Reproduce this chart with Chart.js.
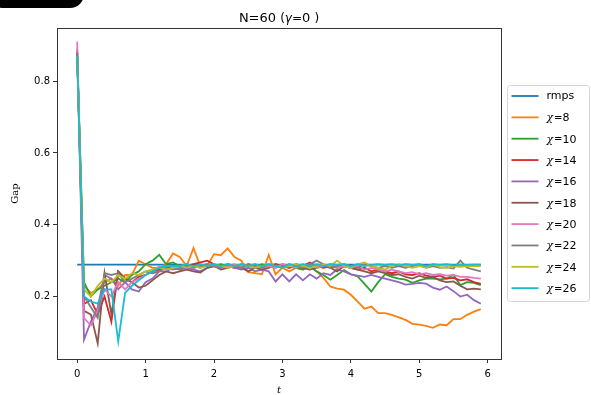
<!DOCTYPE html>
<html>
<head>
<meta charset="utf-8">
<script src="https://cdn.jsdelivr.net/npm/chart.js@4"></script>
<style>
html,body{margin:0;padding:0;background:#fff;overflow:hidden;}
#wrap{position:relative;width:591px;height:395px;}
#blob{position:absolute;left:-12px;top:-12px;width:96px;height:20px;background:#000;border-radius:0 0 14px 14px;}
canvas{position:absolute;left:0;top:0;}
</style>
</head>
<body>
<div id="wrap"><canvas id="c" width="591" height="395"></canvas><div id="blob"></div></div>
<script>
const tValues = [0.0,0.1,0.2,0.3,0.4,0.5,0.6,0.7,0.8,0.9,1.0,1.1,1.2,1.3,1.4,1.5,1.6,1.7,1.8,1.9,2.0,2.1,2.2,2.3,2.4,2.5,2.6,2.7,2.8,2.9,3.0,3.1,3.2,3.3,3.4,3.5,3.6,3.7,3.8,3.9,4.0,4.1,4.2,4.3,4.4,4.5,4.6,4.7,4.8,4.9,5.0,5.1,5.2,5.3,5.4,5.5,5.6,5.7,5.8,5.9];
const xTicks = [0,1,2,3,4,5,6];
const yTicks = [0.2,0.4,0.6,0.8];
const seriesLabels = ['rmps','χ=8','χ=10','χ=14','χ=16','χ=18','χ=20','χ=22','χ=24','χ=26'];

const rmps = [0.289,0.289,0.289,0.289,0.289,0.289,0.289,0.289,0.289,0.289,0.289,0.289,0.289,0.289,0.289,0.289,0.289,0.289,0.289,0.289,0.289,0.289,0.289,0.289,0.289,0.289,0.289,0.289,0.289,0.289,0.289,0.289,0.289,0.289,0.289,0.289,0.289,0.289,0.289,0.289,0.289,0.289,0.289,0.289,0.289,0.289,0.289,0.289,0.289,0.289,0.289,0.289,0.289,0.289,0.289,0.289,0.289,0.289,0.289,0.289];
const chi8 = [0.88,0.23,0.21,0.22,0.24,0.25,0.23,0.26,0.26,0.30,0.29,0.28,0.28,0.29,0.32,0.31,0.285,0.335,0.285,0.285,0.318,0.315,0.334,0.31,0.30,0.268,0.265,0.262,0.316,0.262,0.28,0.27,0.28,0.275,0.285,0.27,0.252,0.228,0.222,0.219,0.205,0.186,0.166,0.172,0.154,0.154,0.149,0.142,0.135,0.124,0.122,0.118,0.113,0.122,0.12,0.137,0.137,0.149,0.158,0.165];
const chi10 = [0.87,0.24,0.20,0.22,0.23,0.24,0.25,0.24,0.26,0.27,0.29,0.30,0.316,0.29,0.295,0.285,0.29,0.285,0.28,0.29,0.285,0.29,0.285,0.28,0.29,0.285,0.28,0.29,0.285,0.28,0.29,0.285,0.28,0.275,0.285,0.27,0.26,0.247,0.26,0.274,0.262,0.256,0.235,0.214,0.24,0.262,0.255,0.25,0.247,0.238,0.245,0.25,0.25,0.248,0.25,0.26,0.232,0.24,0.238,0.232];
const chi14 = [0.87,0.18,0.19,0.15,0.20,0.13,0.27,0.25,0.24,0.255,0.26,0.27,0.275,0.28,0.28,0.275,0.285,0.29,0.295,0.30,0.29,0.28,0.29,0.285,0.28,0.29,0.285,0.28,0.285,0.29,0.285,0.28,0.29,0.285,0.295,0.285,0.28,0.285,0.28,0.285,0.28,0.275,0.28,0.27,0.275,0.27,0.265,0.27,0.262,0.26,0.265,0.258,0.255,0.258,0.25,0.252,0.245,0.248,0.24,0.235];
const chi16 = [0.89,0.08,0.13,0.17,0.26,0.25,0.22,0.24,0.22,0.214,0.24,0.25,0.27,0.27,0.28,0.275,0.28,0.275,0.27,0.28,0.285,0.28,0.285,0.28,0.275,0.28,0.27,0.275,0.27,0.242,0.262,0.242,0.262,0.245,0.262,0.25,0.265,0.26,0.275,0.27,0.262,0.258,0.255,0.26,0.255,0.25,0.245,0.24,0.233,0.235,0.238,0.236,0.225,0.219,0.228,0.215,0.20,0.205,0.19,0.18];
const chi18 = [0.88,0.16,0.15,0.07,0.265,0.15,0.27,0.25,0.24,0.225,0.23,0.245,0.26,0.27,0.265,0.27,0.275,0.27,0.267,0.28,0.285,0.275,0.28,0.285,0.28,0.27,0.28,0.275,0.28,0.29,0.285,0.28,0.285,0.28,0.275,0.28,0.285,0.28,0.27,0.285,0.28,0.275,0.27,0.265,0.27,0.265,0.26,0.262,0.255,0.25,0.258,0.252,0.255,0.245,0.24,0.242,0.23,0.22,0.222,0.22];
const chi20 = [0.91,0.14,0.12,0.16,0.22,0.20,0.24,0.22,0.24,0.25,0.26,0.27,0.285,0.275,0.28,0.285,0.29,0.28,0.285,0.29,0.285,0.28,0.285,0.29,0.28,0.285,0.29,0.28,0.285,0.28,0.29,0.285,0.28,0.285,0.29,0.28,0.285,0.29,0.28,0.285,0.28,0.285,0.275,0.28,0.275,0.27,0.275,0.27,0.265,0.268,0.262,0.265,0.26,0.262,0.258,0.26,0.255,0.255,0.252,0.25];
const chi22 = [0.88,0.20,0.17,0.14,0.265,0.26,0.265,0.24,0.25,0.26,0.27,0.265,0.27,0.28,0.275,0.28,0.285,0.28,0.285,0.29,0.285,0.28,0.29,0.285,0.28,0.29,0.285,0.28,0.29,0.285,0.28,0.29,0.285,0.28,0.29,0.30,0.29,0.28,0.285,0.29,0.285,0.28,0.29,0.285,0.28,0.285,0.28,0.285,0.28,0.285,0.29,0.28,0.285,0.28,0.282,0.278,0.30,0.28,0.275,0.27];
const chi24 = [0.87,0.22,0.20,0.23,0.25,0.24,0.26,0.25,0.265,0.26,0.27,0.275,0.28,0.275,0.28,0.285,0.28,0.285,0.28,0.285,0.29,0.285,0.28,0.285,0.29,0.285,0.28,0.285,0.29,0.285,0.28,0.285,0.29,0.285,0.28,0.285,0.29,0.285,0.30,0.285,0.28,0.29,0.295,0.285,0.28,0.275,0.285,0.29,0.285,0.28,0.285,0.28,0.29,0.282,0.28,0.285,0.283,0.285,0.285,0.285];
const chi26 = [0.87,0.20,0.186,0.18,0.22,0.22,0.075,0.21,0.23,0.245,0.26,0.27,0.28,0.285,0.285,0.285,0.29,0.285,0.29,0.285,0.29,0.285,0.29,0.285,0.29,0.285,0.29,0.285,0.29,0.285,0.28,0.29,0.285,0.29,0.285,0.29,0.285,0.29,0.288,0.29,0.285,0.29,0.285,0.288,0.29,0.288,0.29,0.287,0.29,0.288,0.29,0.285,0.29,0.288,0.29,0.287,0.289,0.288,0.289,0.289];

const seriesValues = [rmps,chi8,chi10,chi14,chi16,chi18,chi20,chi22,chi24,chi26];
const colors = ['#1f77b4','#ff7f0e','#2ca02c','#d62728','#9467bd','#8c564b','#e377c2','#7f7f7f','#bcbd22','#17becf'];

const datasets = seriesValues.map((vals,i)=>({
  label: seriesLabels[i],
  data: vals.map((v,j)=>({x:tValues[j], y:v})),
  borderColor: colors[i],
  backgroundColor: colors[i],
  borderWidth: 1.8,
  pointRadius: 0,
  tension: 0,
  fill: false,
  order: seriesValues.length - i
}));

const AX = '#333';
const frameAndText = {
  id:'frameAndText',
  afterDraw(chart){
    const ctx = chart.ctx, a = chart.chartArea;
    ctx.save();
    ctx.strokeStyle = AX; ctx.lineWidth = 1;
    ctx.strokeRect(Math.round(a.left)+0.5, Math.round(a.top)+0.5, Math.round(a.right-a.left), Math.round(a.bottom-a.top));
    // title
    ctx.fillStyle = '#000';
    ctx.textBaseline = 'middle';
    const parts = [['N=60 ','13px "DejaVu Sans"'],['(','12px "DejaVu Sans"'],['γ','italic 12px "DejaVu Sans"'],['=','12px "DejaVu Sans"'],['0 ','13px "DejaVu Sans"'],[')','12px "DejaVu Sans"']];
    let total = 0;
    parts.forEach(p=>{ctx.font=p[1]; total += ctx.measureText(p[0]).width;});
    let x = (a.left+a.right)/2 - total/2;
    parts.forEach(p=>{ctx.font=p[1]; ctx.fillText(p[0], x, 19); x += ctx.measureText(p[0]).width;});
    // axis labels
    ctx.font = 'italic 10px "DejaVu Serif"';
    ctx.textAlign = 'center';
    ctx.fillText('t', (a.left+a.right)/2, 390);
    ctx.save();
    ctx.translate(15, (a.top+a.bottom)/2);
    ctx.rotate(-Math.PI/2);
    ctx.font = '10px "DejaVu Serif"';
    ctx.fillText('Gap', 0, 0);
    ctx.restore();
    // legend
    const bx = 507.5, by = 85.5, bw = 82, bh = 216, r = 3;
    ctx.beginPath();
    ctx.moveTo(bx+r,by); ctx.lineTo(bx+bw-r,by); ctx.quadraticCurveTo(bx+bw,by,bx+bw,by+r);
    ctx.lineTo(bx+bw,by+bh-r); ctx.quadraticCurveTo(bx+bw,by+bh,bx+bw-r,by+bh);
    ctx.lineTo(bx+r,by+bh); ctx.quadraticCurveTo(bx,by+bh,bx,by+bh-r);
    ctx.lineTo(bx,by+r); ctx.quadraticCurveTo(bx,by,bx+r,by);
    ctx.fillStyle = 'rgba(255,255,255,0.8)'; ctx.fill();
    ctx.strokeStyle = '#d6d6d6'; ctx.lineWidth = 1; ctx.stroke();
    ctx.textAlign = 'left';
    chart.data.datasets.forEach((ds,i)=>{
      const y = 96 + i*21.35;
      ctx.strokeStyle = ds.borderColor; ctx.lineWidth = 1.8;
      ctx.beginPath(); ctx.moveTo(511.5,y); ctx.lineTo(538.5,y); ctx.stroke();
      ctx.fillStyle = '#000';
      const lab = ds.label;
      if (lab.startsWith('χ')) {
        const num = lab.split('=')[1];
        ctx.font = 'italic 11px "DejaVu Serif"'; ctx.fillText('χ', 546.5, y+1);
        ctx.font = '10px "DejaVu Sans"'; ctx.fillText('=', 554, y+1);
        ctx.font = '11px "DejaVu Sans"'; ctx.fillText(num, 562.5, y+1);
      } else {
        ctx.font = '11px "DejaVu Sans"';
        ctx.fillText(lab, 546.5, y);
      }
    });
    ctx.restore();
  }
};

new Chart(document.getElementById('c'), {
  type:'line',
  data:{datasets},
  options:{
    responsive:false,
    animation:false,
    events:[],
    layout:{padding:{left:0,top:28,right:90,bottom:0}},
    plugins:{legend:{display:false},title:{display:false},tooltip:{enabled:false}},
    scales:{
      x:{
        type:'linear', min:-0.295, max:6.195,
        afterBuildTicks: s=>{ s.ticks = xTicks.map(v=>({value:v})); },
        afterFit: s=>{ s.height = 36; },
        grid:{display:true, drawOnChartArea:false, drawTicks:true, tickLength:4, color:AX},
        border:{display:true, color:AX},
        ticks:{color:'#000', font:{family:'DejaVu Sans', size:10}, padding:5, maxRotation:0, callback:v=>String(v)}
      },
      y:{
        type:'linear', min:0.026, max:0.948,
        afterBuildTicks: s=>{ s.ticks = yTicks.map(v=>({value:v})); },
        afterFit: s=>{ s.width = 57; },
        grid:{display:true, drawOnChartArea:false, drawTicks:true, tickLength:4, color:AX},
        border:{display:true, color:AX},
        ticks:{color:'#000', font:{family:'DejaVu Sans', size:10}, padding:3, callback:v=>v.toFixed(1)}
      }
    }
  },
  plugins:[frameAndText]
});
</script>
</body>
</html>
